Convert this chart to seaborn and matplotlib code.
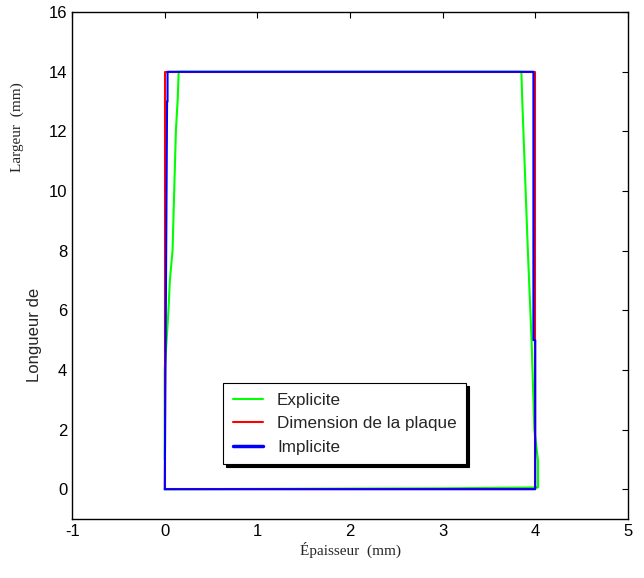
import numpy as np
import pandas as pd
import seaborn as sns
import matplotlib.pyplot as plt

# plate outline (mm)
plaque_x = [0, 0, 4, 4, 0]
plaque_y = [0, 14, 14, 0, 0]

# implicit scheme contour
impl_x = [0, 0.025, 0.03, 0.03, 3.98, 3.98, 4.0, 4.0, 0]
impl_y = [0, 13.0, 13.0, 14.0, 14.0, 5.0, 5.0, 0, 0]

# explicit scheme contour
expl_x = [0.0, 0.0, 0.02, 0.04, 0.055, 0.084, 0.12, 0.14, 0.15, 3.85, 3.86, 3.92, 3.96, 3.99, 4.03, 4.03, 3.0, 0.0]
expl_y = [1.0, 4.0, 5.0, 6.0, 7.0, 8.0, 12.0, 13.1, 14.0, 14.0, 13.0, 8.0, 5.0, 2.0, 0.95, 0.06, 0.03, 0.0]

df_expl = pd.DataFrame({'x': expl_x, 'y': expl_y})
df_plaque = pd.DataFrame({'x': plaque_x, 'y': plaque_y})
df_impl = pd.DataFrame({'x': impl_x, 'y': impl_y})

sns.set_style('white')
plt.rcParams['font.family'] = ['Liberation Sans', 'DejaVu Sans']
plt.rcParams['axes.unicode_minus'] = False

fig = plt.figure(figsize=(6.44, 5.78), dpi=100)
ax = fig.add_axes([0.112, 0.102, 0.863, 0.877])

sns.lineplot(data=df_expl, x='x', y='y', sort=False, estimator=None, color='#00ff00', linewidth=1.5, label='Explicite', ax=ax)
sns.lineplot(data=df_plaque, x='x', y='y', sort=False, estimator=None, color='#ff0000', linewidth=1.5, label='Dimension de la plaque', ax=ax)
sns.lineplot(data=df_impl, x='x', y='y', sort=False, estimator=None, color='#0000ff', linewidth=1.5, label='Implicite', ax=ax)

ax.set_xlim(-1, 5)
ax.set_ylim(-1, 16)
ax.set_xticks(range(-1, 6))
ax.set_yticks(range(0, 17, 2))
ax.tick_params(direction='in', length=4, width=0.8, top=True, right=True, labelsize=12, colors='black')
for s in ax.spines.values():
    s.set_color('black')
    s.set_linewidth(1.0)

ax.set_xlabel('Épaisseur  (mm)', family='Liberation Serif', fontsize=11, labelpad=2)
ax.set_ylabel('')
fig.text(0.054, 0.42, 'Longueur de', rotation=90, fontsize=12, ha='center', va='center')
fig.text(0.027, 0.78, 'Largeur  (mm)', rotation=90, fontsize=11, family='Liberation Serif', ha='center', va='center')

leg = ax.legend(loc='lower left', bbox_to_anchor=(0.272, 0.108), borderaxespad=0, fontsize=12.3,
                frameon=True, fancybox=False, edgecolor='black', framealpha=1,
                shadow={'color': 'black', 'alpha': 1, 'ox': 2, 'oy': -2},
                handlelength=1.8, handletextpad=0.8, labelspacing=0.5, borderpad=0.55)
leg.get_frame().set_linewidth(0.8)
leg.legend_handles[2].set_linewidth(2.5)

fig.savefig('out.png', dpi=100)
